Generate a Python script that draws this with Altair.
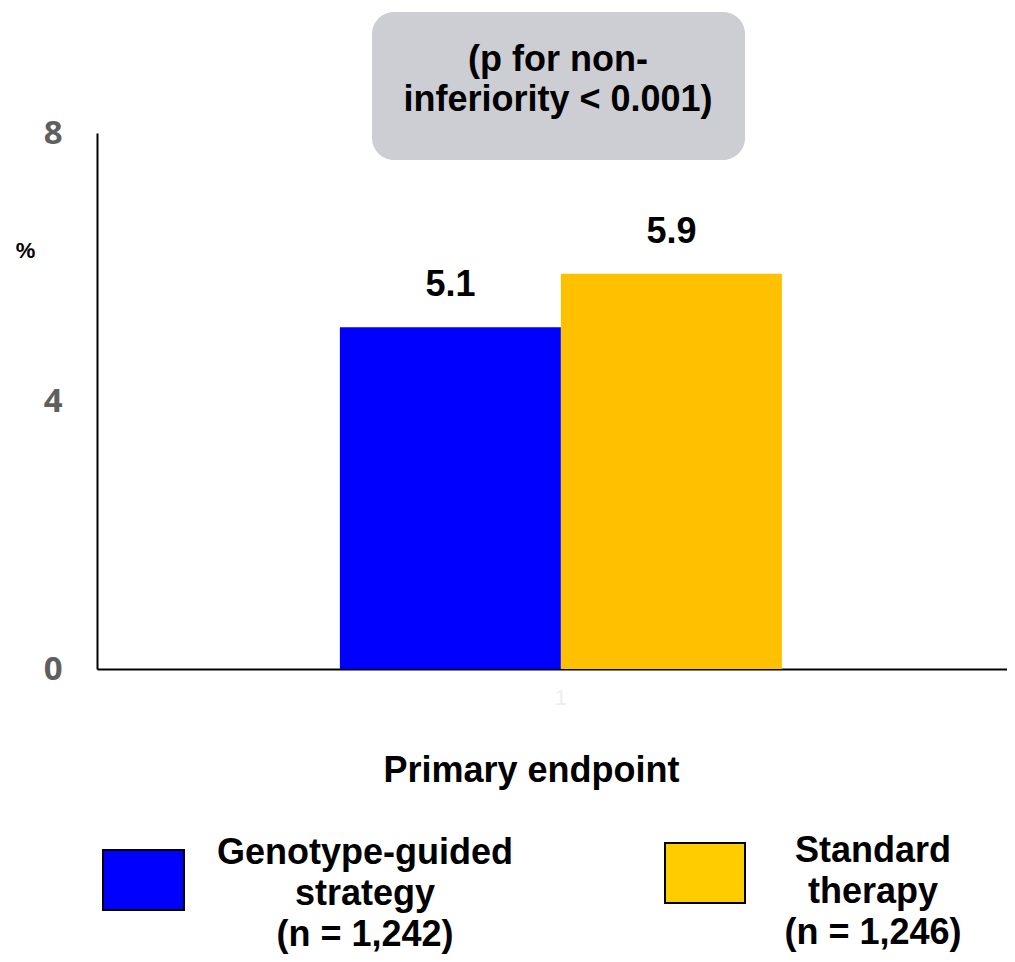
import altair as alt
import pandas as pd

# ---- data ----
categories = ["1"]
series = ["Genotype-guided strategy", "Standard therapy"]
values = [5.1, 5.9]
value_labels = ["5.1", "5.9"]
n_labels = ["(n = 1,242)", "(n = 1,246)"]
bar_colors = ["#0000FF", "#FFC000"]
legend_colors = ["#0000FF", "#FFCC00"]
y_ticks = [0, 4, 8]
box_lines = ["(p for non-", "inferiority < 0.001)"]
x_title = "Primary endpoint"
y_title = "%"

FONT = "Liberation Sans"

df = pd.DataFrame({
    "cat": [categories[0]] * len(series),
    "series": series,
    "value": values,
    "label": value_labels,
})

x_enc = alt.X(
    "cat:N",
    scale=alt.Scale(paddingInner=0, paddingOuter=0.5294, align=0.519),
    axis=alt.Axis(
        title=x_title, labelAngle=0, labelColor="#EEEEEE", labelFontSize=22,
        labelFont=FONT, labelPadding=18, ticks=False, domainColor="black",
        domainWidth=2, titleFont=FONT, titleFontSize=36, titleFontWeight="bold",
        titleColor="black", titleX=434, titleY=112, titleBaseline="alphabetic",
        titleAlign="center",
    ),
)
xoff_enc = alt.XOffset("series:N", sort=series, scale=alt.Scale(paddingInner=0, paddingOuter=0))
y_enc = alt.Y(
    "value:Q",
    scale=alt.Scale(domain=[0, 8], nice=False, zero=True),
    axis=alt.Axis(
        values=y_ticks, grid=False, ticks=False, domainColor="black", domainWidth=2,
        labelFont="Open Sans", labelFontSize=33, labelFontWeight="bold",
        labelColor="#5F5F5F", labelPadding=35, labelBaseline="middle",
        title=y_title, titleAngle=0, titleX=-72, titleY=117, titleAlign="center",
        titleBaseline="middle", titleFont=FONT, titleFontSize=22,
        titleFontWeight="bold", titleColor="black",
    ),
)

bars = alt.Chart(df).mark_bar().encode(
    x=x_enc, xOffset=xoff_enc, y=y_enc,
    color=alt.Color("series:N", scale=alt.Scale(domain=series, range=bar_colors), legend=None),
)

labels = alt.Chart(df).mark_text(
    dy=-31, baseline="alphabetic", align="center", font=FONT, fontSize=36,
    fontWeight="bold", color="black",
).encode(x=x_enc, xOffset=xoff_enc, y=y_enc, text="label:N")

# annotation box
box_df = pd.DataFrame({"t": ["\n".join(box_lines)]})
box = alt.Chart(box_df).mark_rect(cornerRadius=22, color="#CDCED3").encode(
    x=alt.value(275), x2=alt.value(648), y=alt.value(-121), y2=alt.value(27)
)
box_text = alt.Chart(box_df).mark_text(
    align="center", baseline="alphabetic", lineBreak="\n", lineHeight=40,
    font=FONT, fontSize=36, fontWeight="bold", color="black",
).encode(x=alt.value(461), y=alt.value(-62), text="t:N")

# custom legend
legend_layers = []
legend_pos = [
    dict(rx=6, rx2=87, ry=717, ry2=777, tx=268, ty=731),
    dict(rx=568, rx2=648, ry=710, ry2=770, tx=776, ty=729),
]
for i, s in enumerate(series):
    ldf = pd.DataFrame({"series": [s], "t": [s.replace(" ", "\n", 1) + "\n" + n_labels[i]]})
    p = legend_pos[i]
    legend_layers.append(
        alt.Chart(ldf).mark_rect(stroke="black", strokeWidth=2).encode(
            x=alt.value(p["rx"]), x2=alt.value(p["rx2"]),
            y=alt.value(p["ry"]), y2=alt.value(p["ry2"]),
            color=alt.value(legend_colors[i]),
        )
    )
    legend_layers.append(
        alt.Chart(ldf).mark_text(
            align="center", baseline="alphabetic", lineBreak="\n", lineHeight=41,
            font=FONT, fontSize=36, fontWeight="bold", color="black",
        ).encode(x=alt.value(p["tx"]), y=alt.value(p["ty"]), text="t:N")
    )

chart = alt.layer(bars, labels, box, box_text, *legend_layers).properties(
    width=910, height=536,
    background="white",
    autosize=alt.AutoSizeParams(type="none"),
    padding={"left": 89, "top": 125, "right": 0, "bottom": 285},
).configure_view(strokeWidth=0, stroke="transparent")

chart.save("out.html", embed_options={"renderer": "svg", "actions": False})
